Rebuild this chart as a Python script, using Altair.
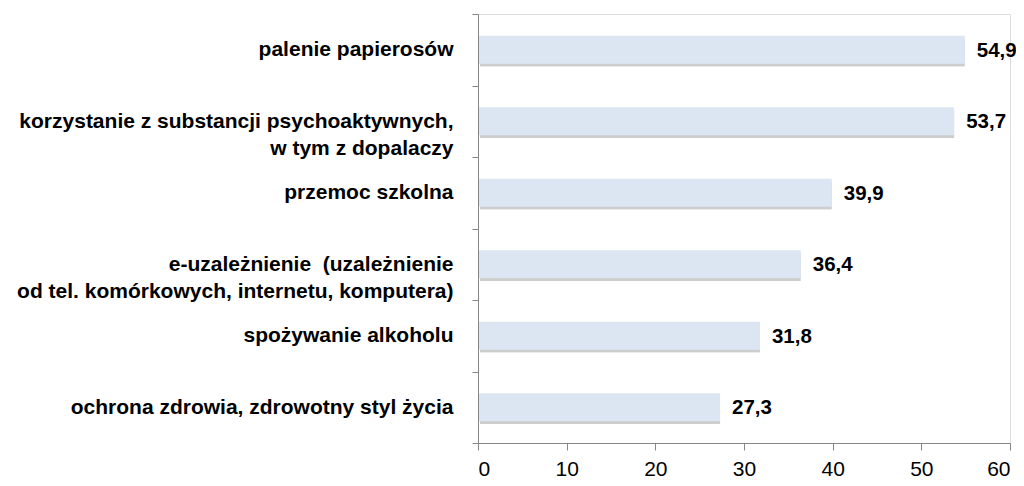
import altair as alt
import pandas as pd

categories = [
    "palenie papierosów",
    "korzystanie z substancji psychoaktywnych,|w tym z dopalaczy",
    "przemoc szkolna",
    "e-uzależnienie \u00a0(uzależnienie|od tel. komórkowych, internetu, komputera)",
    "spożywanie alkoholu",
    "ochrona zdrowia, zdrowotny styl życia",
]
values = [54.9, 53.7, 39.9, 36.4, 31.8, 27.3]
value_labels = ["54,9", "53,7", "39,9", "36,4", "31,8", "27,3"]
x_ticks = [0, 10, 20, 30, 40, 50, 60]

df = pd.DataFrame({"cat": categories, "val": values, "lab": value_labels})

BOLDFONT = "Liberation Sans Narrow, Arial Narrow, Liberation Sans, Arial, sans-serif"

y_enc = alt.Y(
    "cat:N",
    sort=categories,
    title=None,
    scale=alt.Scale(paddingInner=0, paddingOuter=0),
    axis=alt.Axis(
        labelExpr="split(datum.label, '|')",
        labelFont=BOLDFONT,
        labelFontWeight="bold",
        labelFontSize=21,
        labelColor="#000000",
        labelLineHeight=27,
        labelPadding=19,
        tickBand="extent",
        tickSize=6,
        tickColor="#868686",
        domainColor="#868686",
        labelLimit=500,
        grid=False,
        zindex=1,
    ),
)

x_enc = alt.X(
    "val:Q",
    title=None,
    scale=alt.Scale(domain=[0, 60], nice=False),
    axis=alt.Axis(
        values=x_ticks,
        grid=False,
        labelFont="Liberation Sans, Arial, sans-serif",
        labelFontSize=21,
        labelColor="#000000",
        labelPadding=8,
        tickSize=7,
        tickColor="#868686",
        domainColor="#868686",
        zindex=1,
    ),
)

base = alt.Chart(df)

shadow = base.mark_bar(
    size=28, color="#6f6f6f", opacity=0.35, xOffset=2, yOffset=3,
    cornerRadius=1,
).encode(x=x_enc, y=y_enc)

bars = base.mark_bar(size=28, color="#dce6f2").encode(x=x_enc, y=y_enc)

text = base.mark_text(
    align="left", baseline="middle", dx=12, dy=1,
    font=BOLDFONT, fontWeight="bold", fontSize=20.5, color="#000000",
).encode(x=x_enc, y=y_enc, text="lab:N")

chart = (
    alt.layer(shadow, bars, text)
    .properties(
        width=532,
        height=429,
        autosize=alt.AutoSizeParams(type="none"),
        padding={"left": 470, "top": 6, "right": 6, "bottom": 39},
    )
    .configure_view(stroke=None, strokeWidth=0)
    .configure_axis(grid=False)
    .configure(background="#ffffff")
)

chart.save("out.html", embed_options={"renderer": "svg", "actions": False})
